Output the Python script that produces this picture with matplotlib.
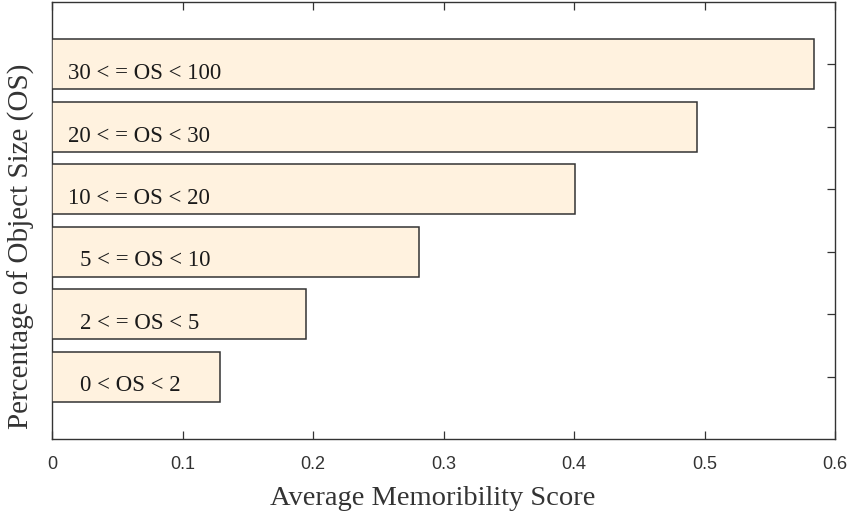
import matplotlib
matplotlib.use("Agg")
import matplotlib.pyplot as plt

# Object-size bins (bottom to top) and their mean memorability scores
size_bins = ["0 < OS < 2", "2 < = OS < 5", "5 < = OS < 10",
             "10 < = OS < 20", "20 < = OS < 30", "30 < = OS < 100"]
mean_scores = [0.1285, 0.1944, 0.281, 0.401, 0.494, 0.584]
x_ticks = [0, 0.1, 0.2, 0.3, 0.4, 0.5, 0.6]
x_tick_labels = ["0", "0.1", "0.2", "0.3", "0.4", "0.5", "0.6"]

AXIS_COLOR = "#333333"
SERIF = ["Liberation Serif", "DejaVu Serif"]
SANS = ["Liberation Sans", "DejaVu Sans"]

W, H = 848, 515
fig = plt.figure(figsize=(W / 100, H / 100), dpi=100)
ax = fig.add_axes([52 / W, 76 / H, 783 / W, 437 / H])

positions = list(range(1, len(size_bins) + 1))
ax.barh(positions, mean_scores, height=0.8, color="#fff2df",
        edgecolor="#333333", linewidth=1.1, zorder=3)

# Bin names written inside the bars; single-digit bins are indented a bit more
for pos, name in zip(positions, size_bins):
    first = name.split(" ")[0]
    indent = 0.0215 if len(first) == 1 else 0.0125
    ax.text(indent, pos - 0.235, name, ha="left", va="baseline", fontsize=16.5,
            family=SERIF, color="#1a1a1a", zorder=4)

ax.set_xlim(0, 0.6)
ax.set_ylim(0, 7)
ax.set_xticks(x_ticks)
ax.set_xticklabels(x_tick_labels, family=SANS, fontsize=13, color="#333333")
ax.set_yticks(positions)
ax.set_yticklabels([])

ax.tick_params(axis="x", direction="in", length=5.8, width=0.9,
               color=AXIS_COLOR, top=True, bottom=True, pad=12)
ax.tick_params(axis="y", direction="in", length=5.8, width=0.9,
               color=AXIS_COLOR, left=False, right=True)
for spine in ax.spines.values():
    spine.set_color(AXIS_COLOR)
    spine.set_linewidth(1.0)

fig.text(433 / W, (H - 505) / H, "Average Memoribility Score", ha="center",
         va="baseline", family=SERIF, fontsize=20.5, color="#333333")
fig.text(21.5 / W, (H - 246) / H, "Percentage of Object Size (OS)",
         rotation=90, ha="center", va="center", family=SERIF, fontsize=21,
         color="#333333")

fig.savefig("out.png", dpi=100)
